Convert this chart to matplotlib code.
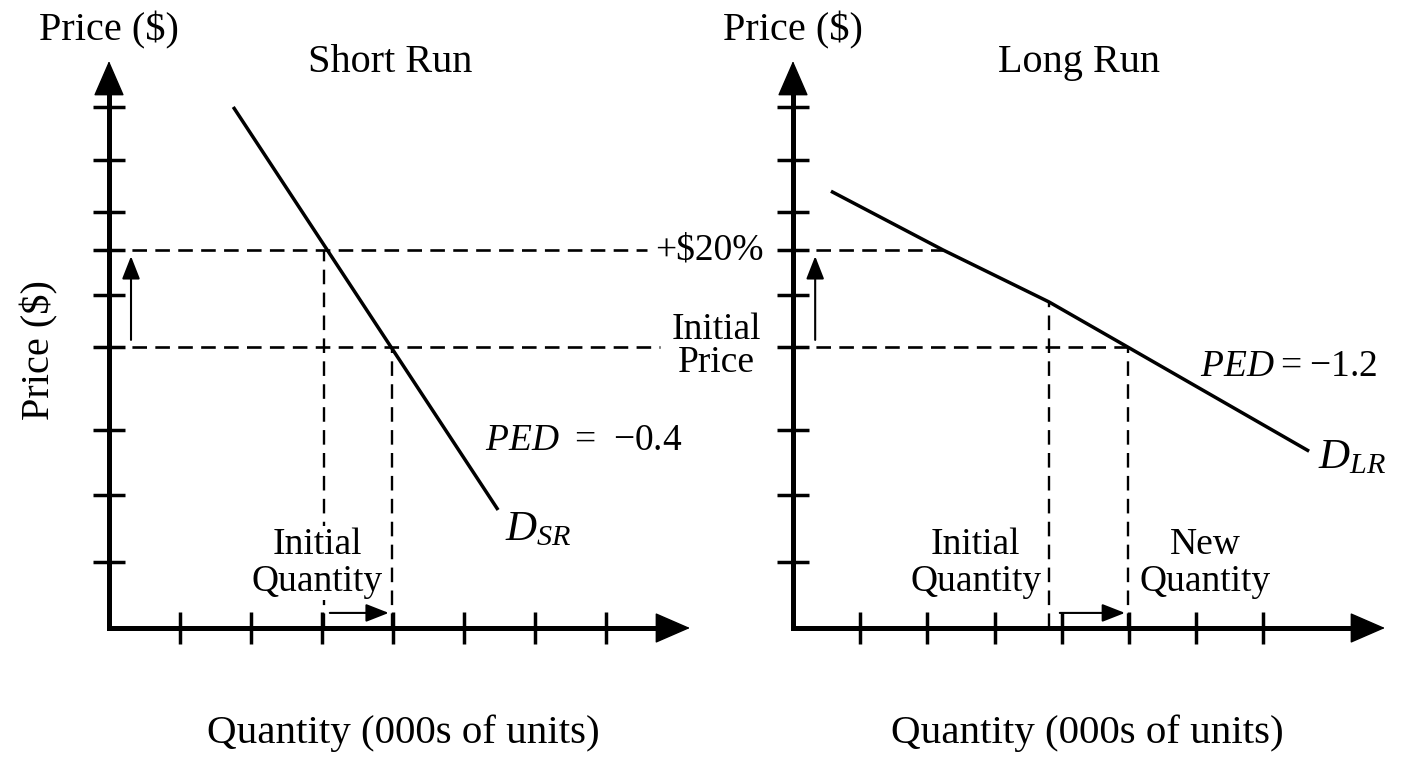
import matplotlib
matplotlib.use("Agg")
import matplotlib.pyplot as plt

plt.rcParams["font.family"] = ["Liberation Serif", "DejaVu Serif"]
plt.rcParams["mathtext.fontset"] = "custom"
plt.rcParams["mathtext.rm"] = "Liberation Serif"
plt.rcParams["mathtext.it"] = "Liberation Serif:italic"
plt.rcParams["lines.scale_dashes"] = False

# values (arbitrary price / quantity units)
price_ticks = [1.27, 2.56, 3.81, 5.40, 6.40, 7.27, 8.00, 9.00, 10.02]
qty_ticks = [1, 2, 3, 4, 5, 6, 7]
initial_price = 5.40
new_price = 7.27

sr_q = [1.75, 5.48]
sr_p = [10.02, 2.27]
sr_q_new = 3.03
sr_q_init = 3.99

lr_q = [0.565, 2.232, 3.81, 4.985, 7.68]
lr_p = [8.40, 7.27, 6.27, 5.40, 3.40]
lr_q_init = 3.81
lr_q_new = 4.985

W, H = 1408, 768
DASH = (10.5, 6)


def arrow(ax, start, end, lw=1.5, hl=1.4, hw=0.55, z=5):
    ax.annotate("", xy=end, xytext=start, annotation_clip=False,
                arrowprops=dict(arrowstyle=f"-|>,head_length={hl},head_width={hw}",
                                lw=lw, color="black", shrinkA=0, shrinkB=0,
                                mutation_scale=10), zorder=z)


def make_axes(fig, left_px, tip_px, qscale, pscale=52, origin_y=628, top_px=61):
    ax = fig.add_axes([left_px / W, (H - origin_y) / H,
                       (tip_px - left_px) / W, (origin_y - top_px) / H])
    xmax = (tip_px - left_px) / qscale
    ymax = (origin_y - top_px) / pscale
    ax.set_xlim(0, xmax)
    ax.set_ylim(0, ymax)
    for s in ["top", "right"]:
        ax.spines[s].set_visible(False)
    for s in ["left", "bottom"]:
        ax.spines[s].set_linewidth(3.6)
    ax.spines["left"].set_bounds(0, ymax - 0.45)
    ax.spines["bottom"].set_bounds(0, xmax - 0.3)
    ax.set_xticks(qty_ticks)
    ax.set_yticks(price_ticks)
    ax.tick_params(direction="inout", length=23, width=2.5,
                   labelbottom=False, labelleft=False)
    ax.patch.set_alpha(0)
    # axis arrowheads
    arrow(ax, (0, ymax - 0.8), (0, ymax), lw=1, hl=2.3, hw=1.0)
    arrow(ax, (xmax - 0.8, 0), (xmax, 0), lw=1, hl=2.3, hw=1.0)
    return ax


fig = plt.figure(figsize=(W / 100, H / 100), dpi=100)

# ---- Short run ----
ax1 = make_axes(fig, 109, 690, 71)
ax1.plot(sr_q, sr_p, color="black", lw=2.5, zorder=4, solid_capstyle="butt")
ax1.plot([0, 7.58], [new_price, new_price], color="black", lw=1.9, dashes=DASH)
ax1.plot([0, 7.76], [initial_price, initial_price], color="black", lw=1.9, dashes=DASH)
ax1.plot([sr_q_new, sr_q_new], [0, new_price], color="black", lw=1.7, dashes=DASH)
ax1.plot([sr_q_init, sr_q_init], [0, initial_price], color="black", lw=1.7, dashes=DASH)
arrow(ax1, (0.31, 5.54), (0.31, 7.15))

ax1.text(0, 11.5, "Price ($)", fontsize=29, ha="center", va="center")
ax1.text(3.96, 10.88, "Short Run", fontsize=29, ha="center", va="center")
ax1.text(-0.98, 5.35, "Price ($)", fontsize=29, ha="center", va="center", rotation=90)
ax1.text(4.14, -2.02, "Quantity (000s of units)", fontsize=29.5, ha="center", va="center")
ax1.text(7.69, new_price, "+$20%", fontsize=27, ha="left", va="center")
ax1.text(8.55, 5.42, "Initial\nPrice", fontsize=27, ha="center", va="center",
         linespacing=0.95)
ax1.text(6.68, 3.6, "$PED$\u2009 = \u2009\u22120.4", fontsize=27, ha="center", va="center")
ax1.text(5.58, 1.69, "$D_{SR}$", fontsize=31, ha="left", va="baseline")
ax1.text(2.93, 1.25, "Initial\nQuantity", fontsize=27, ha="center", va="center",
         linespacing=1.1, zorder=3,
         bbox=dict(facecolor="white", edgecolor="none", pad=1))
arrow(ax1, (3.11, 0.29), (3.94, 0.29))

# ---- Long run ----
ax2 = make_axes(fig, 793, 1385, 67.2)
ax2.plot(lr_q, lr_p, color="black", lw=2.5, zorder=4, solid_capstyle="butt")
ax2.plot([0, lr_q[1]], [new_price, new_price], color="black", lw=1.9, dashes=DASH)
ax2.plot([0, lr_q_new], [initial_price, initial_price], color="black", lw=1.9, dashes=DASH)
ax2.plot([lr_q_init, lr_q_init], [0, lr_p[2]], color="black", lw=1.7, dashes=DASH)
ax2.plot([lr_q_new, lr_q_new], [0, initial_price], color="black", lw=1.7, dashes=DASH)
arrow(ax2, (0.33, 5.54), (0.33, 7.15))

ax2.text(0, 11.5, "Price ($)", fontsize=29, ha="center", va="center")
ax2.text(4.26, 10.88, "Long Run", fontsize=29, ha="center", va="center")
ax2.text(4.375, -2.02, "Quantity (000s of units)", fontsize=29.5, ha="center", va="center")
ax2.text(7.37, 5.02, "$PED$\u2009=\u2009\u22121.2", fontsize=27, ha="center", va="center")
ax2.text(7.81, 3.08, "$D_{LR}$", fontsize=31, ha="left", va="baseline")
ax2.text(2.72, 1.25, "Initial\nQuantity", fontsize=27, ha="center", va="center",
         linespacing=1.1)
ax2.text(6.13, 1.25, "New\nQuantity", fontsize=27, ha="center", va="center",
         linespacing=1.1)
arrow(ax2, (3.97, 0.29), (4.94, 0.29))

fig.savefig("out.png", dpi=100)
